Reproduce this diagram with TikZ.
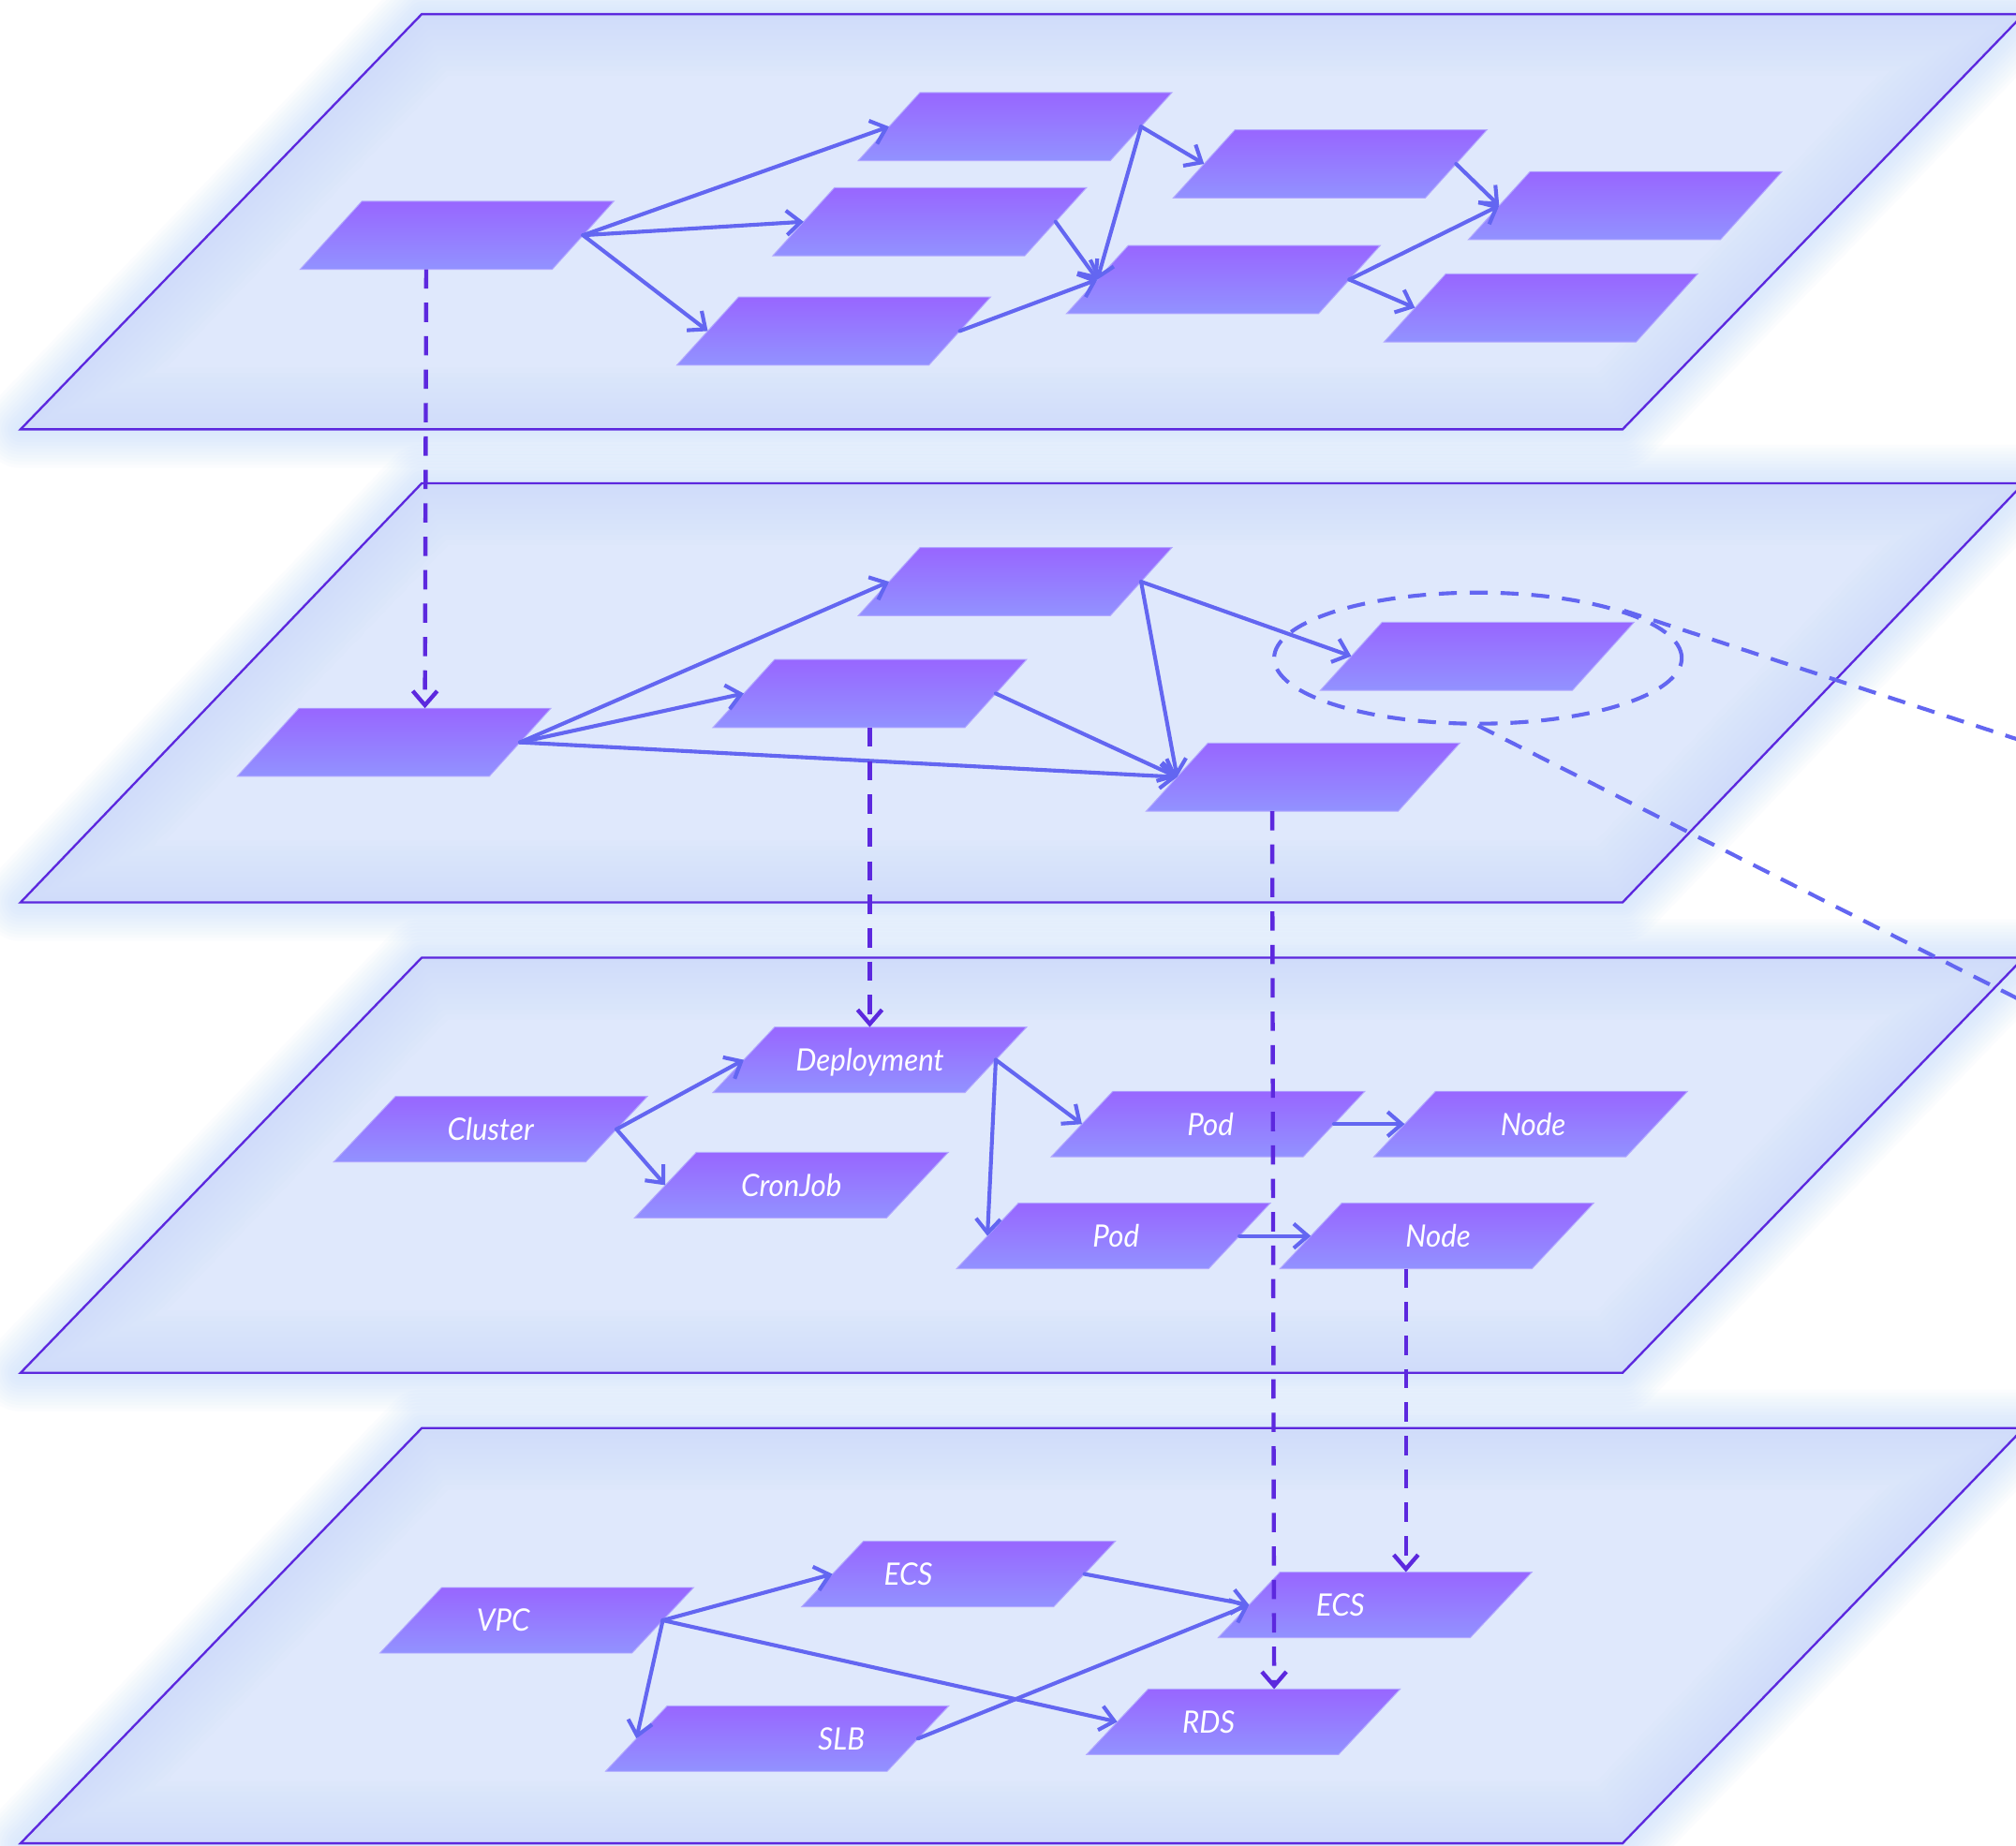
\documentclass[tikz,border=0pt]{standalone}
\usepackage{fontspec}
\newfontfamily\labfont{Lato}[FakeStretch=0.95]
\usetikzlibrary{arrows.meta,shapes.geometric}
\definecolor{edgec}{RGB}{99,102,241}
\definecolor{dashc}{RGB}{92,40,222}
\definecolor{planefill}{RGB}{223,232,252}
\definecolor{glowc}{RGB}{192,220,252}
\definecolor{innerc}{RGB}{190,218,250}
\definecolor{ntop}{RGB}{152,102,255}
\definecolor{nbot}{RGB}{146,146,255}
\definecolor{nline}{RGB}{178,168,255}
\tikzset{
  pbox/.style={shape=rectangle, inner sep=0pt, outer sep=0pt, draw=none},
  pshade/.style={top color=ntop, bottom color=nbot, draw=nline, line width=0.7pt},
  ptext/.style={text=white, font=\labfont\itshape\fontsize{24}{28}\selectfont, inner sep=0pt, anchor=base},
  conn/.style={draw=edgec, line width=3pt, line cap=round, line join=round, -{Straight Barb[length=11pt,width=19pt]}},
  vdash/.style={draw=dashc, line width=3.2pt, dash pattern=on 15pt off 11pt, -{Straight Barb[length=11pt,width=19pt]}},
  gdash/.style={draw=edgec, line width=3pt, dash pattern=on 14pt off 10pt},
  pborder/.style={draw=dashc, line width=1.7pt, line join=miter},
}
\newcommand\plane[2]{%
  \foreach \i in {1,...,12}{\draw[glowc, line width=5*\i pt, opacity=0.06, line join=round] (16,#2) -- (1262,#2) -- (1574,#1) -- (328,#1) -- cycle;}
  \fill[planefill] (16,#2) -- (1262,#2) -- (1574,#1) -- (328,#1) -- cycle;
  \begin{scope}
    \clip (16,#2) -- (1262,#2) -- (1574,#1) -- (328,#1) -- cycle;
    \foreach \i in {1,...,12}{\draw[innerc, line width=8*\i pt, opacity=0.035] (16,#2) -- (1262,#2) -- (1574,#1) -- (328,#1) -- cycle;}
  \end{scope}
  \draw[pborder] (16,#2) -- (1262,#2) -- (1574,#1) -- (328,#1) -- cycle;
}
\newcommand\pnode[5]{%
  \path[pshade] ({#2-#4/2-24},{#3+#5/2}) -- ({#2+#4/2-24},{#3+#5/2}) -- ({#2+#4/2+24},{#3-#5/2}) -- ({#2-#4/2+24},{#3-#5/2}) -- cycle;
  \node[pbox, minimum width=#4pt, minimum height=#5pt] (#1) at (#2,#3) {};
}
\begin{document}
\begin{tikzpicture}[x=1pt,y=-1pt]
\useasboundingbox (0,0) rectangle (1568,1436);
\clip (0,0) rectangle (1568,1436);
\fill[white] (0,0) rectangle (1568,1436);
% planes
\plane{11}{334}
\plane{376}{702}
\plane{745}{1068}
\plane{1111}{1434}
% layer 1
\pnode{A1}{355.5}{183}{196}{53}
\pnode{B1}{789.5}{98.5}{196}{53}
\pnode{C1}{723}{172.5}{196}{53}
\pnode{D1}{648.5}{257.5}{196}{53}
\pnode{E1}{1034.5}{127.5}{196}{53}
\pnode{F1}{951.5}{217.5}{196}{53}
\pnode{G1}{1264}{160}{196}{53}
\pnode{H1}{1198.5}{239.5}{196}{53}
% layer 2
\pnode{A2}{306.5}{577.5}{196}{53}
\pnode{B2}{789.5}{452.5}{196}{53}
\pnode{C2}{676.5}{539.5}{196}{53}
\pnode{D2}{1149}{510.5}{196}{53}
\pnode{E2}{1013.5}{604.5}{196}{53}
% layer 3
\pnode{Dep}{676.5}{824.5}{196}{51}
\pnode{Clu}{381.5}{878.5}{196}{51}
\pnode{Cron}{615.5}{922}{196}{51}
\pnode{PodA}{939.5}{874.5}{196}{51}
\pnode{NodeA}{1190.5}{874.5}{196}{51}
\pnode{PodB}{866}{961.5}{196}{51}
\pnode{NodeB}{1117.5}{961.5}{196}{51}
% layer 4
\pnode{VPC}{417.5}{1260.5}{196}{51}
\pnode{ECSA}{745.5}{1224.5}{196}{51}
\pnode{ECSB}{1069.5}{1248.5}{196}{51}
\pnode{SLB}{604.5}{1352.5}{219}{51}
\pnode{RDS}{967}{1339.5}{196}{51}
% labels
\node[ptext] (tDep) at ([yshift=-8.6pt]Dep.center) {Deployment};
\node[ptext] (tClu) at ([yshift=-8.6pt]Clu.center) {Cluster};
\node[ptext] (tCron) at ([yshift=-8.6pt]Cron.center) {CronJob};
\node[ptext] (tPodA) at ([xshift=2pt,yshift=-8.6pt]PodA.center) {Pod};
\node[ptext] (tNodeA) at ([xshift=2pt,yshift=-8.6pt]NodeA.center) {Node};
\node[ptext] (tPodB) at ([xshift=2pt,yshift=-8.6pt]PodB.center) {Pod};
\node[ptext] (tNodeB) at ([xshift=1pt,yshift=-8.6pt]NodeB.center) {Node};
\node[ptext] (tVPC) at ([xshift=-26pt,yshift=-8.6pt]VPC.center) {VPC};
\node[ptext] (tECSA) at ([xshift=-39pt,yshift=-8.6pt]ECSA.center) {ECS};
\node[ptext] (tECSB) at ([xshift=-27pt,yshift=-8.6pt]ECSB.center) {ECS};
\node[ptext] (tSLB) at ([xshift=50pt,yshift=-8.6pt]SLB.center) {SLB};
\node[ptext] (tRDS) at ([xshift=-27pt,yshift=-8.6pt]RDS.center) {RDS};
% layer 1 connectors
\draw[conn] (A1.east) -- (B1.west);
\draw[conn] (A1.east) -- (C1.west);
\draw[conn] (A1.east) -- (D1.west);
\draw[conn] (B1.east) -- (E1.west);
\draw[conn] (B1.east) -- (F1.west);
\draw[conn] (C1.east) -- (F1.west);
\draw[conn] (D1.east) -- (F1.west);
\draw[conn] (E1.east) -- (G1.west);
\draw[conn] (F1.east) -- (G1.west);
\draw[conn] (F1.east) -- (H1.west);
% layer 2 connectors
\draw[conn] (A2.east) -- (B2.west);
\draw[conn] (A2.east) -- (C2.west);
\draw[conn] (A2.east) -- (E2.west);
\draw[conn] (B2.east) -- (D2.west);
\draw[conn] (B2.east) -- (E2.west);
\draw[conn] (C2.east) -- (E2.west);
% layer 3 connectors
\draw[conn] (Clu.east) -- (Dep.west);
\draw[conn] (Clu.east) -- (Cron.west);
\draw[conn] (Dep.east) -- (PodA.west);
\draw[conn] (Dep.east) -- (PodB.west);
\draw[conn] (PodA.east) -- (NodeA.west);
\draw[conn] (PodB.east) -- (NodeB.west);
% layer 4 connectors
\draw[conn] (VPC.east) -- (ECSA.west);
\draw[conn] (VPC.east) -- (SLB.west);
\draw[conn] (VPC.east) -- (RDS.west);
\draw[conn] (ECSA.east) -- (ECSB.west);
\draw[conn] (SLB.east) -- (ECSB.west);
% group ellipse and its leader lines
\node[ellipse, draw=edgec, line width=3pt, dash pattern=on 14pt off 10pt, minimum width=317pt, minimum height=102pt, inner sep=0pt] (grp) at (1149.5,512) {};
\coordinate (gu) at (1700,618);
\coordinate (gl) at (1700,843);
\draw[gdash] (grp.18) -- (gu);
\draw[gdash] (grp.south) -- (gl);
% cross-layer dashed connectors
\draw[vdash] ([xshift=-24pt]A1.south) -- ([xshift=24pt]A2.north);
\draw[vdash] (C2.south) -- (Dep.north);
\draw[vdash] ([xshift=-24pt]E2.south) -- ([xshift=24pt]RDS.north);
\draw[vdash] ([xshift=-24pt]NodeB.south) -- ([xshift=24pt]ECSB.north);
\end{tikzpicture}
\end{document}
